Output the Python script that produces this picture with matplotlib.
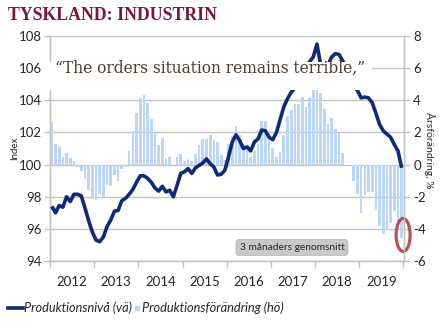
import matplotlib
matplotlib.use("Agg")
import matplotlib.pyplot as plt
from matplotlib.patches import Rectangle, Ellipse
from matplotlib.lines import Line2D
import numpy as np

plt.rcParams["axes.unicode_minus"] = False
plt.rcParams["font.family"] = ["Lato", "DejaVu Sans"]

years = ["2012", "2013", "2014", "2015", "2016", "2017", "2018", "2019"]

# Production level, index (left axis), monthly Jan 2012 - Dec 2019
level = [
    97.4, 97.0, 97.45, 97.35, 98.0, 97.7, 98.15, 98.15, 98.05, 97.3, 96.5, 95.8,
    95.3, 95.2, 95.5, 96.15, 96.55, 97.1, 97.15, 97.75, 97.9, 98.15, 98.45, 98.9,
    99.3, 99.3, 99.15, 98.9, 98.55, 98.35, 98.65, 98.3, 98.4, 98.0, 98.7, 99.45,
    99.55, 99.75, 99.45, 99.8, 99.95, 100.1, 100.35, 100.05, 99.85, 99.35, 99.4, 99.65,
    100.5, 101.4, 101.85, 101.5, 101.0, 101.1, 100.85, 101.4, 101.6, 102.15, 102.1, 101.7,
    101.55, 102.0, 102.8, 103.6, 104.1, 104.5, 104.75, 105.2, 105.7, 106.1, 106.4, 106.7,
    107.5, 106.2, 105.9, 106.2, 106.7, 106.9, 106.85, 106.45, 105.9, 105.35, 104.95, 104.6,
    104.15, 104.2, 104.15, 103.85, 103.2, 102.5, 102.1, 101.9, 101.7, 101.25, 100.85, 99.8,
]

# Year-on-year change, % (right axis), 3-month average
change = [
    2.63, 1.25, 1.08, 0.48, 0.69, 0.42, 0.21, -0.14, -0.41, -0.89, -1.59, -2.17,
    -2.21, -1.86, -2.0, -1.3, -1.34, -0.62, -1.03, -0.27, -0.14, 0.83, 2.07, 3.21,
    4.15, 4.3, 3.83, 2.84, 2.0, 1.23, 1.65, 0.4, 0.47, 0.0, 0.47, 0.67,
    0.2, 0.36, 0.2, 0.67, 1.23, 1.6, 1.6, 1.85, 1.55, 1.38, 0.61, 0.3,
    1.25, 1.8, 2.4, 1.85, 1.25, 1.0, 0.45, 0.85, 1.25, 2.7, 2.7, 1.6,
    1.05, 0.45, 0.8, 1.85, 3.05, 3.4, 3.8, 3.8, 4.22, 3.56, 4.15, 4.65,
    4.65, 4.45, 3.45, 2.5, 2.9, 2.2, 1.95, 0.7, -0.05, -0.1, -1.05, -1.8,
    -3.0, -1.9, -1.7, -1.7, -2.8, -3.85, -4.3, -4.1, -3.65, -2.9, -4.0, -4.55,
]

left_ticks = [94, 96, 98, 100, 102, 104, 106, 108]
right_ticks = [-6, -4, -2, 0, 2, 4, 6, 8]

W, H = 445, 327
fig = plt.figure(figsize=(W / 100, H / 100), dpi=100)
fig.patch.set_facecolor("white")


def fx(p):
    return p / W


def fy(p):
    return 1 - p / H


GRID = "#c4c4c4"
TXT = "#262626"
LINE_C = "#0f2a78"
BAR_C = "#bcd6fa"

ax1 = fig.add_axes([fx(50), fy(261), fx(403.5) - fx(50), fy(36) - fy(261)])
ax2 = ax1.twinx()
ax1.set_zorder(ax2.get_zorder() + 1)
ax1.patch.set_visible(False)

x = np.arange(len(level))

ax2.bar(x, change, width=0.72, color=BAR_C, zorder=2)
ax1.plot(x, level, color=LINE_C, lw=2.6, solid_joinstyle="round",
         solid_capstyle="butt", zorder=3)

ax1.set_xlim(-0.5, len(level) - 0.5)
ax1.set_ylim(94, 108)
ax2.set_ylim(-6, 8)

ax1.set_yticks(left_ticks)
ax2.set_yticks(right_ticks)
ax2.set_axisbelow(True)
ax2.yaxis.grid(True, color=GRID, lw=1.0)

for ax in (ax1, ax2):
    for s in ("left", "right", "bottom"):
        ax.spines[s].set_color(GRID)
        ax.spines[s].set_linewidth(1.0)
    ax.spines["top"].set_visible(False)

ax1.tick_params(axis="y", length=4, width=1, color=GRID, pad=1.7,
                labelsize=9.5, labelcolor=TXT)
ax2.tick_params(axis="y", length=4, width=1, color=GRID, pad=3,
                labelsize=9.5, labelcolor=TXT)

# Year boundaries as major ticks, year names centred between them
ax1.set_xticks([-0.5 + 12 * k for k in range(len(years) + 1)])
ax1.set_xticklabels([])
ax1.set_xticks([5.5 + 12 * k for k in range(len(years))], minor=True)
ax1.set_xticklabels(years, minor=True)
ax1.tick_params(axis="x", which="major", length=5, width=1, color=GRID)
ax1.tick_params(axis="x", which="minor", length=0, pad=11,
                labelsize=9.5, labelcolor=TXT)
ax2.tick_params(axis="x", which="both", length=0, labelbottom=False)

fig.text(fx(15), fy(148), "Index", rotation=90, ha="center", va="center",
         fontsize=7, color=TXT)
fig.text(fx(429), fy(150), "Årsförändring, %", rotation=270, ha="center",
         va="center", fontsize=7.5, color=TXT)

# Title
fig.text(fx(8), fy(15), "TYSKLAND: INDUSTRIN", ha="left", va="center",
         fontsize=12.8, fontweight="bold", family="Liberation Serif",
         color="#7f1734")

# Quote panel on top of the plot
fig.add_artist(Rectangle((fx(45), fy(90)), fx(372) - fx(45), fy(62) - fy(90),
                         transform=fig.transFigure, fc="white", ec="none",
                         zorder=10))
fig.text(fx(55), fy(73), "\u201cThe orders situation remains terrible,\u201d",
         ha="left", va="baseline", fontsize=11.2, family="DejaVu Serif",
         color="#4a3f35", zorder=11)

# Note box
fig.text(fx(292), fy(247.5), "3 månaders genomsnitt", ha="center", va="center",
         fontsize=7.3, color="#222222", zorder=11,
         bbox=dict(boxstyle="round,pad=0.35,rounding_size=0.35",
                   fc="#c9c9c9", ec="#b5b5b5", lw=0.5))

# Highlight of the latest reading
ax2.add_patch(Ellipse((len(change) - 0.6, -4.38), width=3.8, height=2.05,
                      fill=False, ec="#b5554b", lw=2.3, clip_on=False, zorder=5))

# Legend
fig.add_artist(Line2D([fx(8), fx(23)], [fy(308), fy(308)], color=LINE_C,
                      lw=2.6, transform=fig.transFigure))
fig.text(fx(24), fy(308), "Produktionsnivå (vä)", ha="left", va="center",
         fontsize=9.2, style="italic", color=TXT)
fig.add_artist(Rectangle((fx(134.5), fy(310.5)), fx(5), fy(0) - fy(5),
                         transform=fig.transFigure, fc=BAR_C, ec="none"))
fig.text(fx(142), fy(308), "Produktionsförändring (hö)", ha="left",
         va="center", fontsize=9.2, style="italic", color=TXT)

fig.savefig("out.png", dpi=100, facecolor="white")
